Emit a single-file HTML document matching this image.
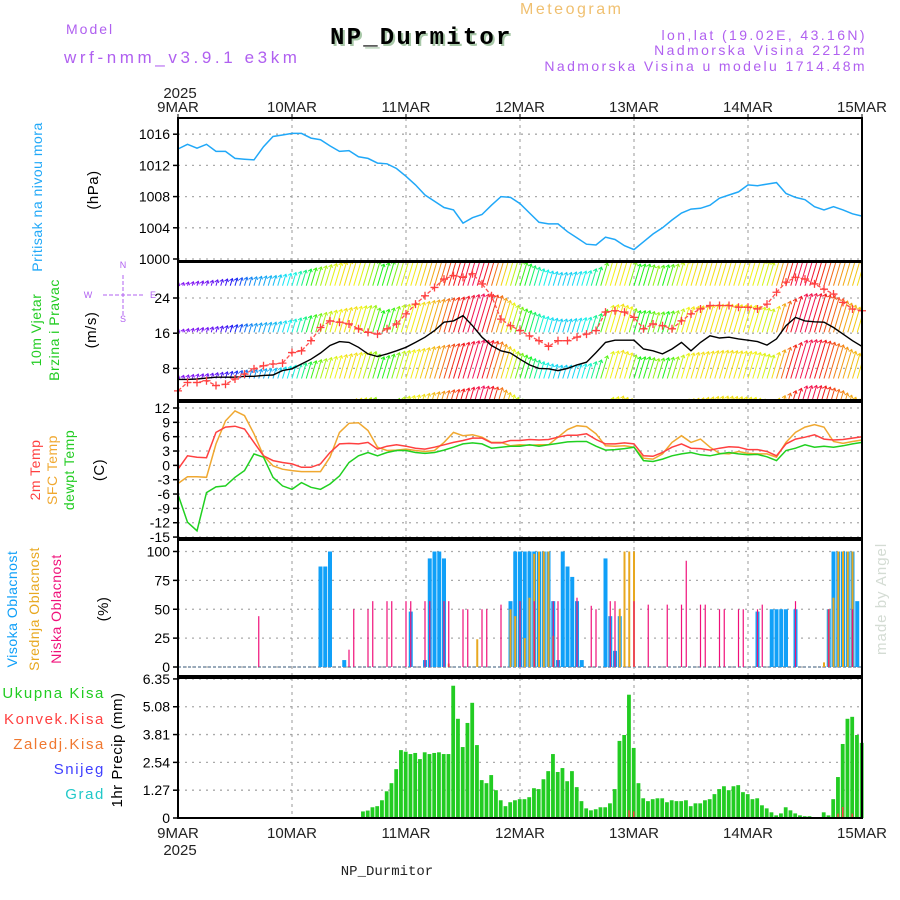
<!DOCTYPE html>
<html><head><meta charset="utf-8"><style>
html,body{margin:0;padding:0;background:#fff;}
svg{display:block;font-family:"Liberation Sans",sans-serif;}
</style></head><body>
<svg id="chart" width="900" height="900" viewBox="0 0 900 900" xmlns="http://www.w3.org/2000/svg">
<defs>
<clipPath id="clipWind"><rect x="178" y="262" width="684" height="138"/></clipPath>
</defs>
<g>
<text x="520" y="14" fill="#f0c070" font-size="16" letter-spacing="2.5">Meteogram</text>
<text x="66" y="34" fill="#b060f0" font-size="14" letter-spacing="2">Model</text>
<text x="64" y="63" fill="#b060f0" font-size="17" letter-spacing="3.6">wrf-nmm_v3.9.1 e3km</text>
<text x="332" y="46" fill="#a8c8a8" font-size="24" font-weight="bold" letter-spacing="2.2" font-family="Liberation Mono, monospace">NP_Durmitor</text>
<text x="330" y="44" fill="#000" font-size="24" font-weight="bold" letter-spacing="2.2" font-family="Liberation Mono, monospace">NP_Durmitor</text>
<text x="867" y="40" text-anchor="end" fill="#b060f0" font-size="14" letter-spacing="2.4">lon,lat (19.02E, 43.16N)</text>
<text x="867" y="55" text-anchor="end" fill="#b060f0" font-size="14" letter-spacing="2.4">Nadmorska Visina 2212m</text>
<text x="867" y="71" text-anchor="end" fill="#b060f0" font-size="14" letter-spacing="2.4">Nadmorska Visina u modelu 1714.48m</text>
</g>
<g id="g"></g>
<text x="387" y="875" text-anchor="middle" font-size="14" font-family="Liberation Mono, monospace" fill="#222">NP_Durmitor</text>
<text transform="translate(886,655) rotate(-90)" fill="#d4dcd4" font-size="15" letter-spacing="1">made by Angel</text>
</svg>
<script>
const days = ['9MAR','10MAR','11MAR','12MAR','13MAR','14MAR','15MAR'];
const presTicks = [1000,1004,1008,1012,1016];
const windTicks = [8,16,24];
const tempTicks = [12,9,6,3,0,-3,-6,-9,-12,-15];
const cloudTicks = [0,25,50,75,100];
const precTicks = ['0','1.27','2.54','3.81','5.08','6.35'];
// 2-hourly series (73 values, hour 0..144)
const pressure = [1014.1,1014.7,1014.2,1014.7,1013.8,1013.8,1012.9,1012.8,1012.7,1014.4,1015.7,1015.9,1016.1,1016.1,1015.5,1015.3,1014.5,1013.8,1013.9,1013.1,1012.9,1012.3,1012.2,1011.6,1010.6,1009.5,1008.2,1007.4,1006.6,1006.3,1004.6,1005.3,1005.7,1006.9,1008.0,1007.9,1007.1,1005.9,1004.7,1004.5,1004.5,1003.5,1002.7,1001.9,1001.8,1002.8,1002.5,1001.7,1001.2,1002.2,1003.2,1004.0,1005.0,1005.9,1006.4,1006.5,1006.9,1007.8,1008.2,1008.6,1009.5,1009.4,1009.6,1009.8,1008.4,1007.9,1007.6,1006.7,1006.3,1006.7,1006.3,1005.8,1005.5];
const temp2m = [-0.8,2.0,1.7,1.6,6.9,8.0,8.2,7.6,4.8,2.0,1.0,0.6,0.3,-0.4,-0.4,0.3,2.7,4.5,4.6,4.5,4.8,3.4,4.0,4.3,4.0,3.6,3.4,3.8,4.3,4.8,5.2,5.7,5.7,4.7,4.7,5.2,5.2,5.4,5.3,5.4,5.9,6.3,6.3,6.6,5.4,4.5,4.5,4.7,4.5,2.0,1.9,2.7,3.8,4.5,3.6,3.5,3.2,3.6,3.9,3.8,3.3,3.3,2.9,2.0,4.5,5.5,5.9,6.4,5.5,5.3,5.4,5.7,6.0];
const tempSfc = [-3.8,-2.4,-2.4,-2.5,4.5,9.3,11.4,10.4,6.6,2.0,-0.1,-0.8,-1.1,-1.3,-1.3,-1.3,1.7,6.9,8.8,8.9,7.3,3.8,3.1,3.2,3.4,3.1,2.9,3.1,4.8,6.9,6.2,6.4,5.9,4.8,4.8,4.1,4.3,4.2,4.3,4.3,5.9,7.5,8.3,8.1,6.6,4.1,4.0,4.1,3.8,1.5,1.3,2.4,4.8,6.2,4.8,5.5,3.8,2.5,2.4,2.9,2.5,2.4,2.4,1.7,4.8,6.9,8.0,8.5,8.0,5.0,4.6,5.0,5.3];
const dewpt = [-6.1,-11.9,-13.7,-5.7,-4.5,-4.3,-2.5,-1.1,2.4,1.7,-2.5,-4.3,-5.0,-3.6,-4.6,-5.0,-3.9,-2.2,0.6,2.0,2.7,2.0,2.7,3.1,3.1,2.7,2.5,2.7,3.2,3.8,4.5,4.7,4.5,3.6,3.8,4.0,4.0,4.3,4.0,4.3,4.6,4.9,5.0,5.0,4.0,3.2,3.3,3.5,3.8,1.0,0.8,1.3,2.0,2.4,2.7,2.2,2.0,2.4,2.7,2.4,2.2,2.3,1.8,1.0,3.1,3.6,4.3,3.8,4.0,3.8,4.1,4.5,4.8];
const windSpeed = [5.5,5.5,5.6,5.8,6.0,6.0,6.0,6.2,6.2,6.4,6.5,7.5,7.9,9.0,10.1,11.5,13.2,14.1,13.9,12.8,11.3,10.7,11.3,12.0,12.8,13.9,15.1,16.6,18.5,18.8,20.0,17.7,15.1,13.2,12.0,11.5,10.1,8.8,8.0,7.9,7.5,8.0,8.8,9.4,11.6,13.9,14.4,14.4,14.4,12.4,12.0,11.3,12.4,13.9,12.0,13.9,15.4,14.9,15.1,14.7,14.4,14.1,13.3,14.7,17.7,19.6,18.8,18.6,18.5,17.3,15.8,14.3,13.0];
const windGust = [2.9,4.8,4.8,5.2,4.1,4.4,5.6,6.7,7.9,8.6,9.0,9.2,11.6,12.0,14.3,17.3,18.8,18.5,18.1,17.0,16.2,15.8,17.0,18.1,20.4,22.6,24.5,26.4,28.3,29.1,28.7,29.5,27.2,24.5,19.2,17.7,16.6,15.4,14.3,13.0,14.3,14.3,15.1,15.8,16.6,20.8,21.1,20.8,19.6,17.0,18.1,17.7,17.0,18.8,20.4,21.5,22.3,22.3,22.3,21.9,21.9,21.5,22.6,25.3,27.6,28.7,28.3,27.2,26.0,24.9,23.0,21.5,21.1];
const vectorLen = [0.6,0.8,1.0,1.1,1.3,1.5,1.7,1.9,2.0,2.2,2.3,2.6,3.0,3.5,4.0,4.5,5.0,5.4,5.8,6.0,6.1,4.9,5.5,6.2,6.5,6.8,7.2,7.5,7.8,8.0,8.4,8.7,8.6,8.3,7.2,6.1,5.3,4.5,3.8,3.3,3.0,3.0,3.2,3.4,4.2,6.1,6.4,5.8,4.9,4.9,4.5,4.7,4.9,5.7,5.9,6.1,6.3,6.4,6.3,6.2,6.1,5.7,5.3,6.5,7.6,8.7,8.8,8.7,8.2,7.6,6.6,5.7,5.3];
const windDir = [270,270,268,265,260,250,235,215,205,200,195,185,175,150,110,80,65,55,55,65,85,120,110,75,60,55,45,35,15,0,350,340,355,25,50,75,110,140,170,185,190,190,185,170,140,65,55,60,120,115,85,120,85,60,55,55,55,55,55,58,60,65,70,40,5,345,345,0,15,30,40,48,60];
// hourly precipitation (mm), hours 0..144
const precip = [0,0,0,0,0,0,0,0,0,0,0,0,0,0,0,0,0,0,0,0,0,0,0,0,0,0,0,0,0,0,0,0,0,0,0,0,0,0,0.02,0.3,0.34,0.49,0.54,0.81,1.22,1.59,2.23,3.1,3.03,2.92,2.97,2.69,3.0,2.92,2.97,3.0,2.92,2.92,6.04,4.53,3.24,4.34,5.26,3.33,1.73,1.59,1.96,1.27,0.81,0.54,0.72,0.81,0.86,0.86,0.95,1.36,1.32,1.77,2.14,2.92,2.1,2.28,1.68,2.14,1.41,0.77,0.44,0.35,0.4,0.49,0.49,0.67,1.32,3.52,3.79,5.63,3.2,1.59,0.9,0.77,0.86,0.9,0.9,0.72,0.81,0.77,0.77,0.81,0.54,0.67,0.67,0.81,0.86,1.09,1.32,1.45,1.27,1.45,1.5,1.18,1.09,0.86,0.9,0.58,0.44,0.26,0.12,0.21,0.49,0.35,0.21,0.12,0.08,0.08,0,0,0.26,0.12,0.86,1.87,3.38,4.53,4.62,3.79,3.43];
const convHours = [95,96,139,140,142,144];
const convVals = [0.35,0.3,0.2,0.5,0.2,0.25];
const highHours = [30,31,32,35,49,52,53,54,55,56,70,71,72,73,74,75,76,77,78,79,80,81,82,83,84,85,90,91,92,93,122,125,126,127,128,130,137,138,139,140,141,142,143];
const highVals = [87,87,100,6,48,6,94,100,100,94,57,100,100,100,100,100,100,100,100,57,6,100,87,78,57,6,94,44,14,44,48,50,50,50,50,50,50,100,100,100,100,100,57];
const midHours = [57,63,70,71,73,74,75,76,77,78,79,93,94,95,96,136,137,138,139,140,141,142];
const midVals = [3,24,50,44,25,60,98,100,100,100,27,50,100,100,100,4,50,60,100,100,100,100];
const lowHours = [17,36,37,40,41,44,45,48,49,52,53,56,57,60,61,64,65,68,72,75,79,80,84,87,88,91,92,96,99,103,106,107,110,111,114,115,118,119,122,123,130,137,142];
const lowVals = [44,15,50,50,57,57,57,57,57,57,57,57,57,50,50,50,50,54,57,57,57,57,60,53,50,57,57,57,54,54,54,92,54,54,50,50,50,50,50,54,57,50,50];

const NS='http://www.w3.org/2000/svg';
const G=document.getElementById('g');
function mk(tag,attrs,parent){const e=document.createElementNS(NS,tag);for(const k in attrs)e.setAttribute(k,attrs[k]);(parent||G).appendChild(e);return e;}
const X0=178,X1=862;
function xh(h){return X0+h*(X1-X0)/144;}
const yP=v=>259-(v-1000)*7.8;
const yW=v=>298+(24-v)*4.4;
const yT=v=>408+(12-v)*4.78;
const yC=v=>667-v*1.155;
const yR=v=>818-v*21.9;
const panels=[[118,261],[262,400],[402,538],[540,676],[678,818]];
const names=['pressure-panel','wind-panel','temperature-panel','cloud-panel','precip-panel'];

function hgrid(y){const l=mk('line',{x1:X0,x2:X1,y1:y,y2:y,stroke:'#aaa','stroke-width':1.3,'stroke-dasharray':'2,5'});

}
presTicks.forEach(v=>hgrid(yP(v)));
windTicks.forEach(v=>hgrid(yW(v)));
tempTicks.forEach(v=>hgrid(yT(v)));
cloudTicks.forEach(v=>hgrid(yC(v)));
precTicks.forEach(v=>hgrid(yR(+v)));
panels.forEach(p=>{for(let d=1;d<6;d++){const l=mk('line',{x1:xh(d*24),x2:xh(d*24),y1:p[0],y2:p[1],stroke:'#999','stroke-width':1,'stroke-dasharray':'3,4'});

}});

function tickLabels(ticks,fy,name){ticks.forEach(v=>{const y=fy(+v);
const t=mk('text',{x:170,y:y+5,'text-anchor':'end','font-size':14,fill:'#000'});t.textContent=v;


const l=mk('line',{x1:173,x2:178,y1:y,y2:y,stroke:'#000','stroke-width':1.5});

});}
tickLabels(presTicks,yP,'pressure-tick-label');
tickLabels(windTicks,yW,'wind-tick-label');
tickLabels(tempTicks,yT,'temp-tick-label');
tickLabels(cloudTicks,yC,'cloud-tick-label');
tickLabels(precTicks,yR,'precip-tick-label');

function pts(arr,fy){return arr.map((v,i)=>xh(i*2).toFixed(1)+','+fy(v).toFixed(1)).join(' ');}
const pl=mk('polyline',{points:pts(pressure,yP),fill:'none',stroke:'#20a8f8','stroke-width':1.5});



const wg=mk('g',{'clip-path':'url(#clipWind)'});


function interp(arr,h){const i=Math.floor(h/2),f=(h%2)/2;if(i>=arr.length-1)return arr[arr.length-1];return arr[i]*(1-f)+arr[i+1]*f;}
function interpDir(h){const i=Math.floor(h/2);if(i>=windDir.length-1)return windDir[windDir.length-1];let a=windDir[i],b=windDir[i+1];if(Math.abs(b-a)>180){if(b>a)a+=360;else b+=360;}return ((a+(b-a)*((h%2)/2))%360+360)%360;}
const bases=[26.8,16.2,5.7,-4.7];
bases.forEach((b,r)=>{for(let h=0;h<=144;h++){const len=interp(vectorLen,h)*4.4;const hue=interpDir(h);
const x=xh(h),y=yW(b);const dx=len*0.3;
const col=`hsl(${hue},90%,52%)`;
const l=mk('line',{x1:x,y1:y,x2:x+dx,y2:y-len,stroke:col,'stroke-width':1},wg);


const a=mk('path',{d:`M${x+dx-3},${y-len+2} L${x+dx},${y-len} L${x+dx+1},${y-len+3}`,fill:'none',stroke:col,'stroke-width':1},wg);

}});
const ws=mk('polyline',{points:pts(windSpeed,yW),fill:'none',stroke:'#000','stroke-width':1.4,'clip-path':'url(#clipWind)'});


const wgu=mk('polyline',{points:pts(windGust,yW),fill:'none',stroke:'#ff5050','stroke-width':1.3,'stroke-dasharray':'4,2','clip-path':'url(#clipWind)'});


windGust.forEach((v,i)=>{const x=xh(i*2),y=yW(v);if(y<262||y>400)return;
const p=mk('path',{d:`M${x-4},${y} h8 M${x},${y-4} v8`,stroke:'#ff4040','stroke-width':1.3});

});

[[tempSfc,'#f0a830','sfc-temp-line'],[temp2m,'#ff4040','temp-2m-line'],[dewpt,'#20d020','dewpoint-line']].forEach(s=>{
const l=mk('polyline',{points:pts(s[0],yT),fill:'none',stroke:s[1],'stroke-width':1.5});

});

const zl=mk('line',{x1:X0,x2:X1,y1:yC(0),y2:yC(0),stroke:'#9ab','stroke-width':2,'stroke-dasharray':'3,2'});


highHours.forEach((h,i)=>{const y=yC(highVals[i]);const r=mk('rect',{x:xh(h)-2,y:y,width:4,height:yC(0)-y,fill:'#10a0f8'});

});
midHours.forEach((h,i)=>{const y=yC(midVals[i]);const r=mk('rect',{x:xh(h)-1,y:y,width:2,height:yC(0)-y,fill:'#e8a820'});

});
lowHours.forEach((h,i)=>{const y=yC(lowVals[i]);const r=mk('rect',{x:xh(h)-0.6,y:y,width:1.2,height:yC(0)-y,fill:'#f0107a'});

});

precip.forEach((v,h)=>{if(v<=0)return;const y=yR(v);const r=mk('rect',{x:xh(h)-2.2,y:y,width:3.8,height:818-y,fill:'#22cc22'});

});
convHours.forEach((h,i)=>{const y=yR(convVals[i]);const r=mk('rect',{x:xh(h)-1,y:y,width:1.5,height:818-y,fill:'#ff4040'});

});

panels.forEach((p,i)=>{const r=mk('rect',{x:X0,y:p[0],width:X1-X0,height:p[1]-p[0],fill:'none',stroke:'#000','stroke-width':2});

});

days.forEach((d,i)=>{const x=xh(i*24);
const t=mk('text',{x:x,y:112,'text-anchor':'middle','font-size':15,fill:'#222'});t.textContent=d;


const b=mk('text',{x:x,y:838,'text-anchor':'middle','font-size':15,fill:'#222'});b.textContent=d;


const tk=mk('line',{x1:x,x2:x,y1:114,y2:118,stroke:'#000'});

});
const y1=mk('text',{x:180,y:98,'text-anchor':'middle','font-size':15,fill:'#222'});y1.textContent='2025';


const y2=mk('text',{x:180,y:855,'text-anchor':'middle','font-size':15,fill:'#222'});y2.textContent='2025';



function vt(x,y,txt,col,name,size){const t=mk('text',{transform:`translate(${x},${y}) rotate(-90)`,'text-anchor':'middle','font-size':size||14,fill:col,'letter-spacing':0.5});t.textContent=txt;

}
vt(42,197,'Pritisak na nivou mora','#20a8f8','pressure-title');
vt(98,190,'(hPa)','#000','pressure-unit',15);
vt(41,330,'10m Vjetar','#22cc22','wind-title-1');
vt(59,330,'Brzina i Pravac','#22cc22','wind-title-2');
vt(96,330,'(m/s)','#000','wind-unit',15);
vt(40,470,'2m Temp','#ff4040','temp2m-title');
vt(57,470,'SFC Temp','#f0a830','sfc-temp-title');
vt(74,470,'dewpt Temp','#22cc22','dewpt-title');
vt(104,470,'(C)','#000','temp-unit',15);
vt(17,609,'Visoka Oblacnost','#10a0f8','high-cloud-title');
vt(39,609,'Srednja Oblacnost','#e8a820','mid-cloud-title');
vt(61,609,'Niska Oblacnost','#f0107a','low-cloud-title');
vt(108,609,'(%)','#000','cloud-unit',15);
vt(122,750,'1hr Precip (mm)','#000','precip-title',15);
const cg=mk('g',{fill:'#b060f0','font-size':9});


[['N',123,268],['W',88,298],['E',153,298],['S',123,322]].forEach(c=>{const t=mk('text',{x:c[1],y:c[2],'text-anchor':'middle'},cg);t.textContent=c[0];

});
const cp=mk('path',{d:'M103,295 h40 M123,275 v40',stroke:'#b060f0','stroke-dasharray':'4,2',fill:'none'},cg);


[['Ukupna Kisa','#22cc22',698],['Konvek.Kisa','#ff4040',724],['Zaledj.Kisa','#f07830',749],['Snijeg','#4040ff',774],['Grad','#20c8c8',799]].forEach(l=>{
const t=mk('text',{x:105,y:l[2],'text-anchor':'end','font-size':15,fill:l[1],'letter-spacing':1.6});t.textContent=l[0];

});
</script>
</body></html>
